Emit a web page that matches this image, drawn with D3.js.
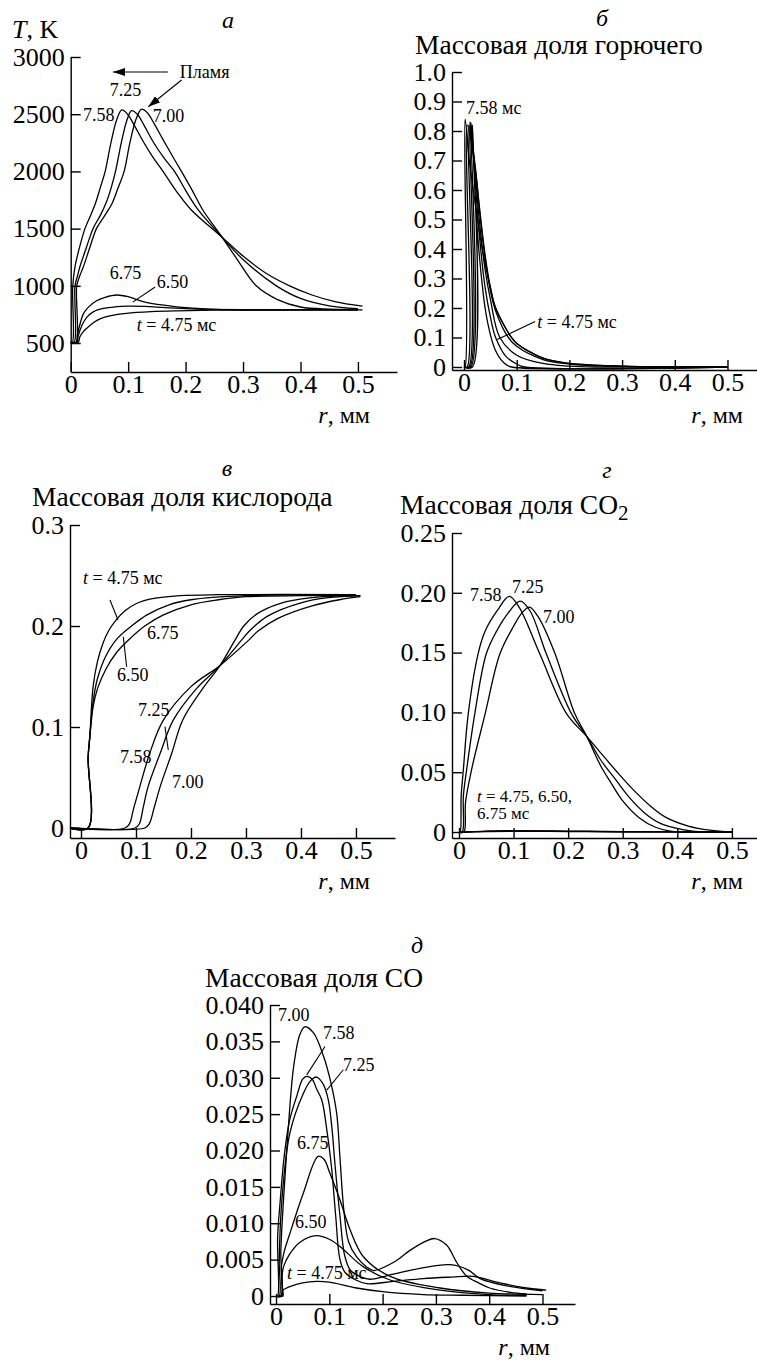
<!DOCTYPE html>
<html>
<head>
<meta charset="utf-8">
<script src="https://cdn.jsdelivr.net/npm/d3@7"></script>
<style>
  html, body { margin: 0; padding: 0; background: #fff; }
  svg { display: block; }
  svg text { font-family: "Liberation Serif", "DejaVu Serif", serif; fill: #000; }
</style>
</head>
<body>
<svg id="chart" width="757" height="1360"></svg>
<script>
// ---------------------------------------------------------------------------
// Data: radial profiles r (mm) around the droplet at times t = 4.75 ... 7.58 ms
// ---------------------------------------------------------------------------
const times = ["4.75", "6.50", "6.75", "7.00", "7.25", "7.58"];

// Shared radial axis
const rTicks = [0, 0.1, 0.2, 0.3, 0.4, 0.5];
const rTickLabels = ["0", "0.1", "0.2", "0.3", "0.4", "0.5"];

// (a) Temperature T, K
const tempTicks = [500, 1000, 1500, 2000, 2500, 3000];
const tempTickLabels = ["500", "1000", "1500", "2000", "2500", "3000"];
const temp475 = [[0,505],[0.013,505],[0.016,555],[0.022,600],[0.028,630],[0.04,680],[0.051,712],[0.07,740],[0.097,760],[0.14,775],[0.184,782],[0.25,787],[0.35,789],[0.508,790]];
const temp650 = [[0,505],[0.011,505],[0.013,560],[0.02,660],[0.028,725],[0.04,775],[0.057,803],[0.08,818],[0.097,823],[0.13,820],[0.155,812],[0.2,800],[0.242,794],[0.3,791],[0.4,790],[0.5,790]];
const temp675 = [[0,505],[0.010,505],[0.012,580],[0.017,680],[0.022,755],[0.03,810],[0.045,870],[0.06,900],[0.08,920],[0.1,905],[0.126,862],[0.155,835],[0.184,817],[0.242,797],[0.3,791],[0.4,790],[0.5,790]];
const temp700 = [[0,505],[0.009,505],[0.0105,1000],[0.016,1090],[0.022,1167],[0.033,1330],[0.045,1502],[0.06,1620],[0.072,1720],[0.082,1850],[0.093,2000],[0.103,2250],[0.114,2460],[0.123,2543],[0.133,2515],[0.145,2420],[0.16,2285],[0.177,2135],[0.193,1998],[0.212,1830],[0.23,1663],[0.26,1450],[0.29,1230],[0.323,1000],[0.36,880],[0.40,815],[0.45,797],[0.5,795]];
const temp725 = [[0,505],[0.006,505],[0.0075,1000],[0.012,1090],[0.016,1167],[0.027,1330],[0.039,1502],[0.052,1620],[0.062,1730],[0.07,1850],[0.078,2000],[0.088,2250],[0.098,2450],[0.106,2531],[0.116,2500],[0.128,2400],[0.144,2255],[0.162,2120],[0.181,1998],[0.2,1835],[0.222,1663],[0.26,1445],[0.3,1230],[0.358,1000],[0.40,890],[0.45,825],[0.5,800]];
const temp758 = [[0,505],[0.003,505],[0.0035,992],[0.0075,1167],[0.015,1330],[0.025,1502],[0.035,1620],[0.043,1720],[0.051,1850],[0.06,2000],[0.07,2250],[0.08,2450],[0.089,2537],[0.099,2500],[0.111,2400],[0.127,2255],[0.143,2125],[0.161,1998],[0.185,1820],[0.21,1663],[0.26,1440],[0.3,1260],[0.34,1110],[0.381,1000],[0.42,920],[0.46,862],[0.508,822]];

// (б) Fuel mass fraction
const fuelTicks = [0, 0.1, 0.2, 0.3, 0.4, 0.5, 0.6, 0.7, 0.8, 0.9, 1.0];
const fuelTickLabels = ["0", "0.1", "0.2", "0.3", "0.4", "0.5", "0.6", "0.7", "0.8", "0.9", "1.0"];
const fuel475 = [[0,0],[0.016,0],[0.016,0.82],[0.02,0.62],[0.025,0.47],[0.03,0.36],[0.04,0.2],[0.05,0.11],[0.06,0.055],[0.07,0.025],[0.08,0.008],[0.09,0.0],[0.5,0]];
const fuel650 = [[0,0],[0.013,0],[0.013,0.83],[0.02,0.66],[0.03,0.43],[0.04,0.27],[0.05,0.17],[0.06,0.1],[0.08,0.035],[0.1,0.01],[0.115,0.0],[0.5,0]];
const fuel675 = [[0,0],[0.011,0],[0.011,0.83],[0.02,0.68],[0.03,0.48],[0.04,0.33],[0.05,0.23],[0.068,0.1],[0.1,0.04],[0.15,0.012],[0.2,0.003],[0.25,0],[0.5,0]];
const fuel700 = [[0,0],[0.009,0],[0.009,0.82],[0.02,0.7],[0.03,0.52],[0.04,0.37],[0.05,0.26],[0.06,0.19],[0.084,0.1],[0.1,0.07],[0.15,0.025],[0.2,0.01],[0.3,0.002],[0.4,0],[0.5,0]];
const fuel725 = [[0,0],[0.006,0],[0.006,0.82],[0.02,0.69],[0.03,0.53],[0.04,0.38],[0.05,0.27],[0.06,0.2],[0.09,0.1],[0.1,0.08],[0.15,0.03],[0.2,0.012],[0.3,0.003],[0.45,0],[0.5,0]];
const fuel758 = [[0,0],[0.002,0],[0.002,0.84],[0.01,0.7],[0.02,0.57],[0.03,0.45],[0.04,0.35],[0.05,0.27],[0.06,0.2],[0.09,0.1],[0.1,0.08],[0.15,0.03],[0.2,0.012],[0.3,0.003],[0.5,0]];

// (в) Oxygen mass fraction
const oxTicks = [0, 0.1, 0.2, 0.3];
const oxTickLabels = ["0", "0.1", "0.2", "0.3"];
const ox475 = [[-0.02,0],[0.013,0],[0.013,0.07],[0.016,0.09],[0.022,0.14],[0.03,0.165],[0.04,0.183],[0.05,0.195],[0.064,0.206],[0.08,0.215],[0.1,0.222],[0.13,0.227],[0.18,0.23],[0.25,0.231],[0.5,0.231]];
const ox650 = [[-0.02,0],[0.013,0],[0.013,0.07],[0.016,0.09],[0.022,0.125],[0.03,0.148],[0.045,0.17],[0.065,0.187],[0.092,0.2],[0.12,0.211],[0.16,0.221],[0.2,0.226],[0.3,0.23],[0.5,0.231]];
const ox675 = [[-0.02,0],[0.013,0],[0.013,0.07],[0.016,0.09],[0.022,0.12],[0.03,0.138],[0.045,0.157],[0.065,0.174],[0.09,0.188],[0.116,0.2],[0.15,0.211],[0.2,0.221],[0.25,0.226],[0.3,0.229],[0.4,0.23],[0.508,0.23]];
const ox700 = [[-0.02,0],[0.116,0],[0.124,0.004],[0.133,0.02],[0.144,0.041],[0.165,0.074],[0.185,0.107],[0.22,0.137],[0.253,0.161],[0.28,0.186],[0.296,0.2],[0.32,0.212],[0.36,0.222],[0.42,0.228],[0.5,0.23]];
const ox725 = [[-0.02,0],[0.098,0],[0.106,0.004],[0.113,0.02],[0.122,0.041],[0.144,0.074],[0.168,0.107],[0.21,0.138],[0.253,0.161],[0.292,0.186],[0.308,0.196],[0.34,0.21],[0.4,0.223],[0.45,0.228],[0.508,0.23]];
const ox758 = [[-0.02,0],[0.080,0],[0.088,0.004],[0.096,0.02],[0.107,0.041],[0.125,0.074],[0.15,0.107],[0.2,0.14],[0.253,0.161],[0.305,0.186],[0.322,0.195],[0.36,0.208],[0.42,0.22],[0.47,0.226],[0.508,0.229]];

// (г) CO2 mass fraction
const co2Ticks = [0, 0.05, 0.10, 0.15, 0.20, 0.25];
const co2TickLabels = ["0", "0.05", "0.10", "0.15", "0.20", "0.25"];
const co2_475 = [[0,0],[0.013,0],[0.05,0.0004],[0.1,0.0006],[0.2,0.0004],[0.3,0.0002],[0.5,0]];
const co2_650 = [[0,0],[0.011,0],[0.05,0.0006],[0.1,0.0009],[0.2,0.0006],[0.3,0.0002],[0.5,0]];
const co2_675 = [[0,0],[0.010,0],[0.05,0.0008],[0.1,0.0012],[0.2,0.0008],[0.3,0.0003],[0.5,0]];
const co2_700 = [[0,0],[0.009,0],[0.012,0.025],[0.023,0.052],[0.048,0.099],[0.075,0.149],[0.1,0.172],[0.115,0.183],[0.129,0.188],[0.145,0.18],[0.176,0.149],[0.212,0.099],[0.234,0.08],[0.26,0.055],[0.28,0.04],[0.3,0.026],[0.33,0.012],[0.36,0.004],[0.39,0.0005],[0.42,0],[0.5,0]];
const co2_725 = [[0,0],[0.006,0],[0.008,0.03],[0.014,0.052],[0.029,0.099],[0.05,0.149],[0.069,0.168],[0.09,0.183],[0.112,0.193],[0.13,0.185],[0.16,0.149],[0.206,0.099],[0.234,0.08],[0.26,0.06],[0.285,0.045],[0.31,0.03],[0.34,0.016],[0.37,0.007],[0.41,0.002],[0.45,0],[0.5,0]];
const co2_758 = [[0,0],[0.002,0],[0.004,0.03],[0.008,0.052],[0.017,0.099],[0.035,0.149],[0.048,0.168],[0.07,0.185],[0.092,0.197],[0.11,0.188],[0.148,0.149],[0.197,0.099],[0.234,0.08],[0.26,0.066],[0.29,0.05],[0.32,0.035],[0.35,0.022],[0.38,0.012],[0.42,0.005],[0.46,0.0015],[0.5,0]];

// (д) CO mass fraction
const coTicks = [0, 0.005, 0.010, 0.015, 0.020, 0.025, 0.030, 0.035, 0.040];
const coTickLabels = ["0", "0.005", "0.010", "0.015", "0.020", "0.025", "0.030", "0.035", "0.040"];
const co475 = [[0,0],[0.013,0],[0.013,0.0008],[0.02,0.0011],[0.026,0.0013],[0.05,0.0018],[0.076,0.002],[0.1,0.0019],[0.151,0.0011],[0.2,0.0006],[0.276,0.0002],[0.35,0.0001],[0.47,0]];
const co650 = [[0,0],[0.011,0],[0.011,0.0025],[0.014,0.004],[0.025,0.0057],[0.045,0.0074],[0.076,0.0083],[0.1,0.0078],[0.12,0.0068],[0.164,0.004],[0.214,0.0022],[0.308,0.0008],[0.4,0.0002],[0.47,0.0001]];
const co675 = [[0,0],[0.010,0],[0.010,0.004],[0.015,0.006],[0.026,0.0086],[0.051,0.0141],[0.079,0.0192],[0.09,0.0188],[0.101,0.0169],[0.12,0.0132],[0.139,0.0091],[0.164,0.0054],[0.214,0.0027],[0.308,0.0011],[0.4,0.0004],[0.5,0.0002]];
const co700 = [[0,0],[0.009,0],[0.009,0.006],[0.014,0.0132],[0.022,0.022],[0.033,0.0315],[0.045,0.036],[0.054,0.037],[0.07,0.0362],[0.089,0.033],[0.104,0.029],[0.114,0.025],[0.12,0.019],[0.127,0.012],[0.136,0.0075],[0.151,0.0054],[0.17,0.004],[0.183,0.0035],[0.22,0.0046],[0.25,0.0062],[0.28,0.0075],[0.298,0.0079],[0.32,0.007],[0.34,0.0045],[0.358,0.0027],[0.38,0.0018],[0.401,0.0011],[0.44,0.0005],[0.47,0.0003]];
const co725 = [[0,0],[0.006,0],[0.006,0.005],[0.011,0.0132],[0.026,0.0224],[0.051,0.0278],[0.065,0.0296],[0.076,0.0301],[0.088,0.0292],[0.098,0.027],[0.105,0.023],[0.111,0.0178],[0.12,0.011],[0.129,0.0055],[0.14,0.0035],[0.16,0.0026],[0.176,0.0023],[0.22,0.003],[0.27,0.0038],[0.326,0.0043],[0.36,0.0036],[0.383,0.0024],[0.433,0.0014],[0.5,0.0007]];
const co758 = [[0,0],[0.003,0],[0.003,0.008],[0.008,0.0132],[0.015,0.019],[0.025,0.024],[0.039,0.0275],[0.05,0.0298],[0.058,0.0302],[0.068,0.0298],[0.076,0.0285],[0.086,0.0269],[0.095,0.023],[0.104,0.0178],[0.112,0.011],[0.12,0.005],[0.13,0.0032],[0.15,0.0022],[0.17,0.0017],[0.22,0.002],[0.276,0.0024],[0.33,0.0026],[0.37,0.0027],[0.42,0.0018],[0.47,0.0011],[0.507,0.0008]];

// ---------------------------------------------------------------------------
// Drawing
// ---------------------------------------------------------------------------
const svg = d3.select("#chart");
svg.append("rect").attr("width", 757).attr("height", 1360).attr("fill", "#fff");

const defs = svg.append("defs");
defs.append("marker")
  .attr("id", "arrowhead")
  .attr("viewBox", "0 0 12 8")
  .attr("refX", 12).attr("refY", 4)
  .attr("markerWidth", 12).attr("markerHeight", 8)
  .attr("markerUnits", "userSpaceOnUse")
  .attr("orient", "auto")
  .append("path").attr("d", "M0,0 L12,4 L0,8 Z").attr("fill", "#000");

function drawPanel(cfg) {
  const x = d3.scaleLinear().domain(cfg.xDomain).range(cfg.xRange);
  const y = d3.scaleLinear().domain(cfg.yDomain).range(cfg.yRange);
  const g = svg.append("g");

  const xAxis = g.append("g")
    .attr("transform", `translate(0,${cfg.yRange[0]})`)
    .call(d3.axisBottom(x).tickValues(rTicks).tickFormat((d, i) => rTickLabels[i])
      .tickSizeInner(-10).tickSizeOuter(0).tickPadding(3));
  const yAxis = g.append("g")
    .attr("transform", `translate(${cfg.xRange[0]},0)`)
    .call(d3.axisLeft(y).tickValues(cfg.yTicks).tickFormat((d, i) => cfg.yLabels[i])
      .tickSizeInner(-10).tickSizeOuter(0).tickPadding(6));
  [xAxis, yAxis].forEach(a => {
    a.attr("font-family", null).attr("font-size", 26);
    a.selectAll("path, line").attr("stroke", "#000").attr("stroke-width", 1.4);
    a.selectAll("text").attr("fill", "#000");
  });

  const line = d3.line()
    .x(d => x(d[0])).y(d => y(d[1]))
    .curve(d3.curveCatmullRom.alpha(0.5));
  g.append("g").selectAll("path")
    .data(cfg.series)
    .join("path")
    .attr("d", d => line(d))
    .attr("fill", "none")
    .attr("stroke", "#000")
    .attr("stroke-width", 1.3)
    .attr("stroke-linejoin", "round");

  // curve annotations (placed in data units)
  (cfg.notes || []).forEach(n => {
    const t = g.append("text")
      .attr("x", x(n[1])).attr("y", y(n[2]))
      .attr("font-size", n[3] || 18);
    if (n[0].startsWith("t =")) {
      t.append("tspan").attr("font-style", "italic").text("t");
      t.append("tspan").text(n[0].slice(1));
    } else {
      t.text(n[0]);
    }
  });
  (cfg.leaders || []).forEach(l => {
    g.append("line")
      .attr("x1", x(l[0])).attr("y1", y(l[1]))
      .attr("x2", x(l[2])).attr("y2", y(l[3]))
      .attr("stroke", "#000").attr("stroke-width", 1.1)
      .attr("marker-end", l[4] ? "url(#arrowhead)" : null);
  });

  // axis caption  r, мм
  const cap = g.append("text")
    .attr("x", cfg.rCaption[0]).attr("y", cfg.rCaption[1])
    .attr("text-anchor", "end")
    .attr("font-size", 24);
  cap.append("tspan").attr("font-style", "italic").text("r");
  cap.append("tspan").text(", мм");

  // panel letter
  g.append("text")
    .attr("x", cfg.letter[1]).attr("y", cfg.letter[2])
    .attr("text-anchor", "middle")
    .attr("font-size", 24).attr("font-style", "italic")
    .text(cfg.letter[0]);

  // quantity title
  const title = g.append("text")
    .attr("x", cfg.title[0]).attr("y", cfg.title[1])
    .attr("font-size", cfg.titleSize || 27.5);
  cfg.titleParts(title);
  return g;
}

// (а) temperature
drawPanel({
  xDomain: [0, 0.568], xRange: [70.7, 397],
  yDomain: [247, 3000], yRange: [372, 57],
  yTicks: tempTicks, yLabels: tempTickLabels,
  series: [temp475, temp650, temp675, temp700, temp725, temp758],
  notes: [["Пламя", 0.190, 2816], ["7.25", 0.068, 2659], ["7.58", 0.0214, 2441],
          ["7.00", 0.143, 2432], ["6.75", 0.068, 1059], ["6.50", 0.150, 981],
          ["t = 4.75 мс", 0.115, 605]],
  leaders: [[0.169, 2869, 0.0736, 2869, true], [0.193, 2799, 0.135, 2565, true],
            [0.147, 990, 0.108, 858, false]],
  rCaption: [370, 423],
  letter: ["а", 228, 28],
  title: [12, 38],
  titleSize: 26,
  titleParts: t => {
    t.append("tspan").attr("font-style", "italic").text("T");
    t.append("tspan").text(", K");
  }
});

// (б) fuel
drawPanel({
  xDomain: [-0.0228, 0.556], xRange: [452, 757],
  yDomain: [-0.0102, 1.0], yRange: [370, 72],
  yTicks: fuelTicks, yLabels: fuelTickLabels,
  series: [fuel475, fuel650, fuel675, fuel700, fuel725, fuel758],
  notes: [["7.58 мс", 0.0038, 0.858], ["t = 4.75 мс", 0.139, 0.132]],
  leaders: [[0.135, 0.154, 0.062, 0.092, false]],
  rCaption: [743, 423],
  letter: ["б", 602, 26],
  title: [415, 54],
  titleParts: t => t.text("Массовая доля горючего")
});

// (в) oxygen
drawPanel({
  xDomain: [-0.02, 0.571], xRange: [70, 395],
  yDomain: [-0.0099, 0.3], yRange: [838, 525],
  yTicks: oxTicks, yLabels: oxTickLabels,
  series: [ox475, ox650, ox675, ox700, ox725, ox758],
  notes: [["t = 4.75 мс", 0.0036, 0.2416], ["6.75", 0.12, 0.187], ["6.50", 0.0655, 0.1455],
          ["7.25", 0.1036, 0.1109], ["7.58", 0.0709, 0.0644], ["7.00", 0.1655, 0.0396]],
  leaders: [[0.0527, 0.2257, 0.0673, 0.206, false], [0.083, 0.1597, 0.0769, 0.1894, false],
            [0.1527, 0.1003, 0.1587, 0.0772, false]],
  rCaption: [370, 889],
  letter: ["в", 227, 476],
  title: [32, 506],
  titleParts: t => t.text("Массовая доля кислорода")
});

// (г) CO2
drawPanel({
  xDomain: [-0.0128, 0.546], xRange: [452, 757],
  yDomain: [-0.005, 0.25], yRange: [838, 533],
  yTicks: co2Ticks, yLabels: co2TickLabels,
  series: [co2_475, co2_650, co2_675, co2_700, co2_725, co2_758],
  notes: [["7.58", 0.0201, 0.1931], ["7.25", 0.0971, 0.1998], ["7.00", 0.1538, 0.1747],
          ["t = 4.75, 6.50,", 0.033, 0.0255, 17], ["6.75 мс", 0.033, 0.0105, 17]],
  leaders: [],
  rCaption: [743, 889],
  letter: ["г", 607, 478],
  title: [400, 514],
  titleParts: t => {
    t.append("tspan").text("Массовая доля CO");
    t.append("tspan").attr("font-size", 21).attr("dy", 6).text("2");
  }
});

// (д) CO
drawPanel({
  xDomain: [-0.0113, 0.561], xRange: [270, 575],
  yDomain: [-0.0011, 0.04], yRange: [1304, 1005],
  yTicks: coTicks, yLabels: coTickLabels,
  series: [co475, co650, co675, co700, co725, co758],
  notes: [["7.00", 0.0038, 0.0378], ["7.58", 0.0882, 0.0353], ["7.25", 0.1257, 0.0309],
          ["6.75", 0.0394, 0.0202], ["6.50", 0.0356, 0.0093], ["t = 4.75 мс", 0.0206, 0.0023]],
  leaders: [[0.0919, 0.0343, 0.0576, 0.0304, false], [0.1263, 0.0311, 0.0951, 0.0283, false]],
  rCaption: [550, 1355],
  letter: ["д", 417, 953],
  title: [205, 987],
  titleParts: t => t.text("Массовая доля CO")
});
</script>
</body>
</html>
